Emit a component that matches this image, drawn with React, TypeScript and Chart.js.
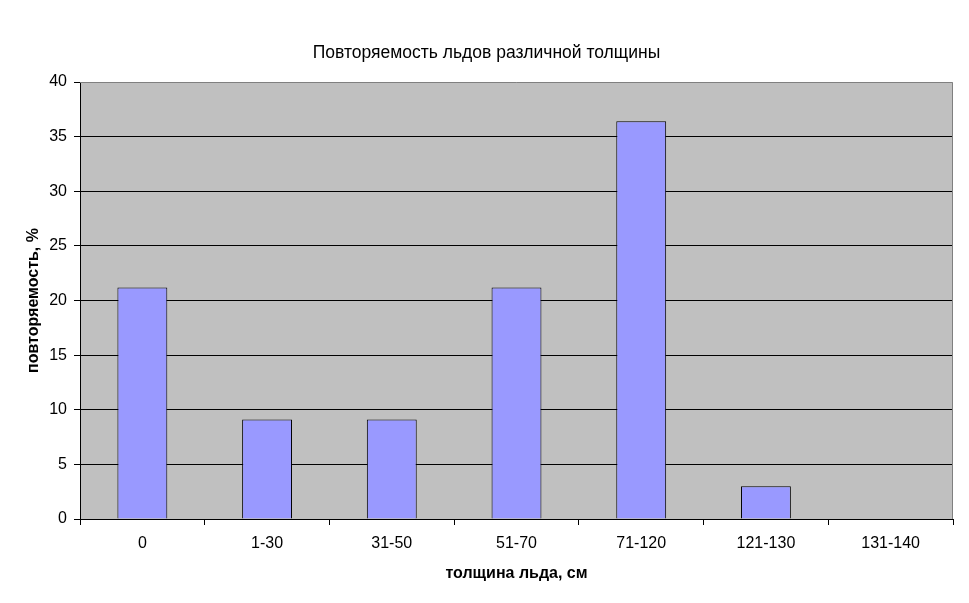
import React, { useEffect, useRef } from "react";
import { Chart, registerables } from "chart.js";

Chart.register(...registerables);

const categories = ["0", "1-30", "31-50", "51-70", "71-120", "121-130", "131-140"];
const values = [21.2, 9.1, 9.1, 21.2, 36.4, 3.0, 0];
const chartTitle = "Повторяемость льдов различной толщины";
const xTitle = "толщина льда, см";
const yTitle = "повторяемость, %";
const yMin = 0;
const yMax = 40;
const yStep = 5;

const FONT = "'Liberation Sans', Arial, sans-serif";

const plotBg = {
  id: "plotBg",
  beforeDraw(chart: any) {
    const { ctx, chartArea: a } = chart;
    ctx.save();
    ctx.fillStyle = "#C0C0C0";
    ctx.fillRect(a.left, a.top, a.right - a.left, a.bottom - a.top);
    ctx.restore();
  },
  afterDatasetsDraw(chart: any) {
    const { ctx, chartArea: a } = chart;
    ctx.save();
    ctx.strokeStyle = "#808080";
    ctx.lineWidth = 1;
    ctx.beginPath();
    ctx.moveTo(a.left, a.top + 0.5);
    ctx.lineTo(a.right - 0.5, a.top + 0.5);
    ctx.lineTo(a.right - 0.5, a.bottom);
    ctx.stroke();
    ctx.restore();
  },
};

export default function App() {
  const ref = useRef<HTMLCanvasElement>(null);
  useEffect(() => {
    if (!ref.current) return;
    const chart = new Chart(ref.current, {
      type: "bar",
      data: {
        labels: categories,
        datasets: [
          {
            data: values,
            backgroundColor: "#9999FF",
            borderColor: "#000000",
            borderWidth: 1,
            barPercentage: 0.4,
            categoryPercentage: 1,
          },
        ],
      },
      options: {
        animation: false,
        responsive: false,
        maintainAspectRatio: false,
        layout: { padding: { left: 20, right: 16, top: 0, bottom: 0 } },
        plugins: {
          legend: { display: false },
          tooltip: { enabled: false },
          title: {
            display: true,
            text: chartTitle,
            color: "#000",
            font: { family: FONT, size: 17.5, weight: "normal" },
            padding: { top: 42.5, bottom: 18.5 },
          },
        },
        scales: {
          x: {
            grid: {
              display: true,
              drawOnChartArea: false,
              drawTicks: true,
              offset: true,
              tickLength: 6,
              color: "#000",
            },
            border: { display: true, color: "#000", width: 1 },
            ticks: {
              color: "#000",
              font: { family: FONT, size: 16 },
              padding: 9,
              maxRotation: 0,
              autoSkip: false,
            },
            title: {
              display: true,
              text: xTitle,
              color: "#000",
              font: { family: FONT, size: 16, weight: "bold" },
              padding: { top: 0, bottom: 20 },
            },
            afterFit(scale: any) {
              scale.height = 84;
            },
          },
          y: {
            min: yMin,
            max: yMax,
            grid: {
              color: (c: any) => (c.tick && c.tick.value === yMax ? "rgba(0,0,0,0)" : "#000"),
              tickColor: "#000",
              tickLength: 6,
              drawTicks: true,
            },
            border: { display: true, color: "#000", width: 1 },
            ticks: {
              stepSize: yStep,
              color: "#000",
              font: { family: FONT, size: 16 },
              padding: 7,
            },
            title: {
              display: true,
              text: yTitle,
              color: "#000",
              font: { family: FONT, size: 16, weight: "bold" },
              padding: { top: 3.5, bottom: 0 },
            },
            afterFit(scale: any) {
              scale.width = 60;
            },
          },
        },
      },
      plugins: [plotBg],
    });
    return () => chart.destroy();
  }, []);
  return (
    <div style={{ position: "fixed", left: 0, top: 0, width: 969, height: 603, background: "#fff" }}>
      <canvas ref={ref} width={969} height={603} style={{ width: 969, height: 603 }} />
    </div>
  );
}
